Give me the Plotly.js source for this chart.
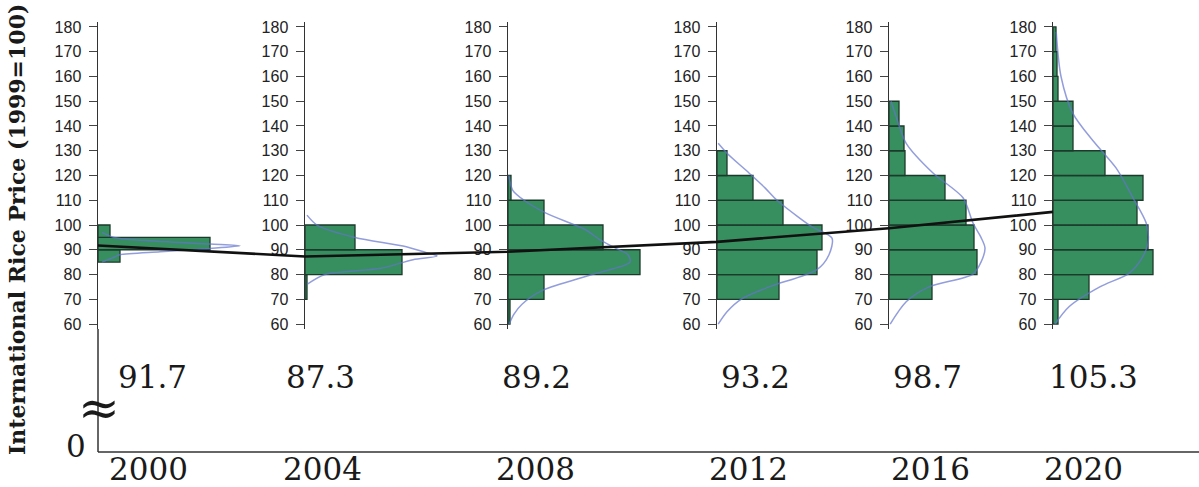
<!DOCTYPE html>
<html>
<head>
<meta charset="utf-8">
<script src="https://cdn.plot.ly/plotly-3.0.1.min.js"></script>
<style>html,body{margin:0;padding:0;background:#fff;}#chart{width:1199px;height:487px;}</style>
</head>
<body>
<div id="chart"></div>
<script>
// ---------------- DATA ----------------
const years = [2000, 2004, 2008, 2012, 2016, 2020];
const means = [91.7, 87.3, 89.2, 93.2, 98.7, 105.3];
const yTickVals = [60, 70, 80, 90, 100, 110, 120, 130, 140, 150, 160, 170, 180];

// histogram bins (lower edges), bin widths and frequencies
const binWidth = [5, 10, 10, 10, 10, 10];
const bins2000 = [85, 90, 95];
const freq2000 = [5.5, 28, 3];
const bins2004 = [70, 80, 90];
const freq2004 = [0.5, 24.25, 12.5];
const bins2008 = [60, 70, 80, 90, 100, 110];
const freq2008 = [0.5, 9, 33, 23.75, 9, 0.75];
const bins2012 = [70, 80, 90, 100, 110, 120];
const freq2012 = [15.5, 25, 26.25, 16.5, 9, 2.5];
const bins2016 = [70, 80, 90, 100, 110, 120, 130, 140];
const freq2016 = [10.75, 22, 21.25, 19.25, 14, 4, 3.75, 2.5];
const bins2020 = [60, 70, 80, 90, 100, 110, 120, 130, 140, 150, 160, 170];
const freq2020 = [1.25, 9, 25, 23.75, 21, 22.5, 13, 5, 5, 1.25, 1, 0.75];

// smoothed density curves (price value, density)
const kdeV2000 = [85, 87, 88, 89.2, 90.5, 91.6, 92.3, 93.5, 95, 97];
const kdeD2000 = [1, 4, 5.5, 15.5, 28, 35.5, 28, 14, 4, 1];
const kdeV2004 = [76, 80, 82.5, 86, 87.5, 89, 91.5, 95, 100, 104];
const kdeD2004 = [0.5, 5, 19, 27, 33, 30, 24.5, 12.5, 3, 0.5];
const kdeV2008 = [60, 64, 68, 73.7, 80, 85, 88, 90.6, 94, 98, 104.8, 110, 114, 120];
const kdeD2008 = [0.3, 1.5, 3.5, 8.75, 21, 30.5, 30, 27, 23, 19.5, 9.5, 4, 1.2, 0.2];
const kdeV2012 = [60, 65, 70, 75, 82, 88, 94.7, 99, 103, 110, 115, 121, 129, 133];
const kdeD2012 = [0.3, 2.5, 6, 13, 25, 28, 28.75, 24, 20.5, 15, 12, 8, 2.5, 0.3];
const kdeV2016 = [60, 69, 75, 80.2, 85, 90.7, 95, 100.8, 111, 121, 133, 143.7, 150];
const kdeD2016 = [0.3, 4.3, 10, 21, 23, 24, 23, 21, 18.5, 11, 4.3, 1.8, 0.5];
const kdeV2020 = [60, 67, 75, 80.5, 86, 92.7, 100.8, 111, 123, 134, 145, 160, 178];
const kdeD2020 = [0.5, 4, 11.7, 19, 22, 23.75, 23.3, 20, 15.8, 10, 5, 2, 0.8];

const binsAll = [bins2000, bins2004, bins2008, bins2012, bins2016, bins2020];
const freqAll = [freq2000, freq2004, freq2008, freq2012, freq2016, freq2020];
const kdeVAll = [kdeV2000, kdeV2004, kdeV2008, kdeV2012, kdeV2016, kdeV2020];
const kdeDAll = [kdeD2000, kdeD2004, kdeD2008, kdeD2012, kdeD2016, kdeD2020];

// ---------------- LAYOUT CONSTANTS (pixels) ----------------
const W = 1199, H = 487;
const AXIS_PX = [98, 305, 508, 717, 889, 1053];      // left edge of each small panel
const MEANLABEL_PX = [152, 320, 536, 755, 927, 1093];
const YEARLABEL_PX = [148, 322, 535, 748, 930, 1083];
const HIST_RANGE = 36, HIST_PX = 144;
const PANEL_TOP = 22, PANEL_BOT = 329, BASE_Y = 452;
const yP = px => 1 - px / H;
const xP = px => px / W;

const traces = [];
const layout = {
  width: W, height: H,
  margin: {l: 0, r: 0, t: 0, b: 0, pad: 0},
  paper_bgcolor: '#ffffff', plot_bgcolor: 'rgba(0,0,0,0)',
  showlegend: false,
  shapes: [], annotations: []
};

years.forEach((yr, i) => {
  const n = i === 0 ? '' : String(i + 1);
  const xa = 'x' + n, ya = 'y' + n;
  const bw = binWidth[i];
  traces.push({
    type: 'bar', orientation: 'h',
    x: freqAll[i],
    y: binsAll[i].map(b => b + bw / 2),
    width: binsAll[i].map(() => bw),
    xaxis: xa, yaxis: ya,
    marker: {color: '#378f60', line: {color: '#1b3a2a', width: 1.3}},
    hoverinfo: 'skip'
  });
  traces.push({
    type: 'scatter', mode: 'lines',
    x: kdeDAll[i], y: kdeVAll[i],
    xaxis: xa, yaxis: ya,
    line: {color: 'rgba(100,115,205,0.7)', width: 1.5, shape: 'spline', smoothing: 0.8},
    hoverinfo: 'skip'
  });
  layout['xaxis' + n] = {
    domain: [xP(AXIS_PX[i]), xP(AXIS_PX[i] + HIST_PX)],
    range: [0, HIST_RANGE], visible: false, fixedrange: true, anchor: ya
  };
  layout['yaxis' + n] = {
    domain: [yP(PANEL_BOT), yP(PANEL_TOP)],
    range: [58, 182], anchor: xa, fixedrange: true,
    showline: true, linecolor: '#333', linewidth: 1.5,
    ticks: 'outside', ticklen: 8, tickwidth: 1, tickcolor: '#444',
    tickvals: yTickVals, ticktext: yTickVals.map(String),
    ticklabelstandoff: 4,
    tickfont: {family: 'Liberation Sans, Arial, sans-serif', size: 16, color: '#222'},
    showgrid: false, zeroline: false
  };
  layout.annotations.push({
    xref: 'x7', yref: 'paper', x: MEANLABEL_PX[i], y: yP(377),
    text: means[i].toFixed(1), showarrow: false, xanchor: 'center', yanchor: 'middle',
    font: {family: 'DejaVu Serif, serif', size: 31, color: '#1a1a1a'}
  });
  layout.annotations.push({
    xref: 'x7', yref: 'paper', x: YEARLABEL_PX[i], y: yP(469),
    text: String(yr), showarrow: false, xanchor: 'center', yanchor: 'middle',
    font: {family: 'DejaVu Serif, serif', size: 31, color: '#1a1a1a'}
  });
});

// overlay axes for the mean line (drawn last => on top)
layout.xaxis7 = {domain: [0, 1], range: [0, W], visible: false, fixedrange: true, anchor: 'y7'};
layout.yaxis7 = {domain: [yP(PANEL_BOT), yP(PANEL_TOP)], range: [58, 182], visible: false, fixedrange: true, anchor: 'x7'};
traces.push({
  type: 'scatter', mode: 'lines',
  x: AXIS_PX, y: means, xaxis: 'x7', yaxis: 'y7',
  line: {color: '#111', width: 2.6}, hoverinfo: 'skip'
});

// main axes (broken y-axis down to 0, baseline)
layout.shapes.push({type: 'line', xref: 'paper', yref: 'paper',
  x0: xP(AXIS_PX[0]), x1: xP(AXIS_PX[0]), y0: yP(BASE_Y), y1: yP(PANEL_BOT),
  line: {color: '#333', width: 1.5}});
layout.shapes.push({type: 'line', xref: 'paper', yref: 'paper',
  x0: xP(AXIS_PX[0]), x1: 1, y0: yP(BASE_Y), y1: yP(BASE_Y),
  line: {color: '#333', width: 1.5}});

layout.annotations.push({
  xref: 'paper', yref: 'paper', x: xP(AXIS_PX[0] + 1), y: yP(408),
  text: '≈', showarrow: false, xanchor: 'center', yanchor: 'middle',
  font: {family: 'DejaVu Serif, serif', size: 50, color: '#1a1a1a'}
});
layout.annotations.push({
  xref: 'paper', yref: 'paper', x: xP(76), y: yP(446),
  text: '0', showarrow: false, xanchor: 'center', yanchor: 'middle',
  font: {family: 'DejaVu Serif, serif', size: 31, color: '#1a1a1a'}
});
layout.annotations.push({
  xref: 'paper', yref: 'paper', x: xP(17), y: yP(230),
  text: '<b>International Rice Price (1999=100)</b>', textangle: -90,
  showarrow: false, xanchor: 'center', yanchor: 'middle',
  font: {family: 'DejaVu Serif, serif', size: 22, color: '#1a1a1a'}
});

Plotly.newPlot('chart', traces, layout, {staticPlot: true, displayModeBar: false});
</script>
</body>
</html>
